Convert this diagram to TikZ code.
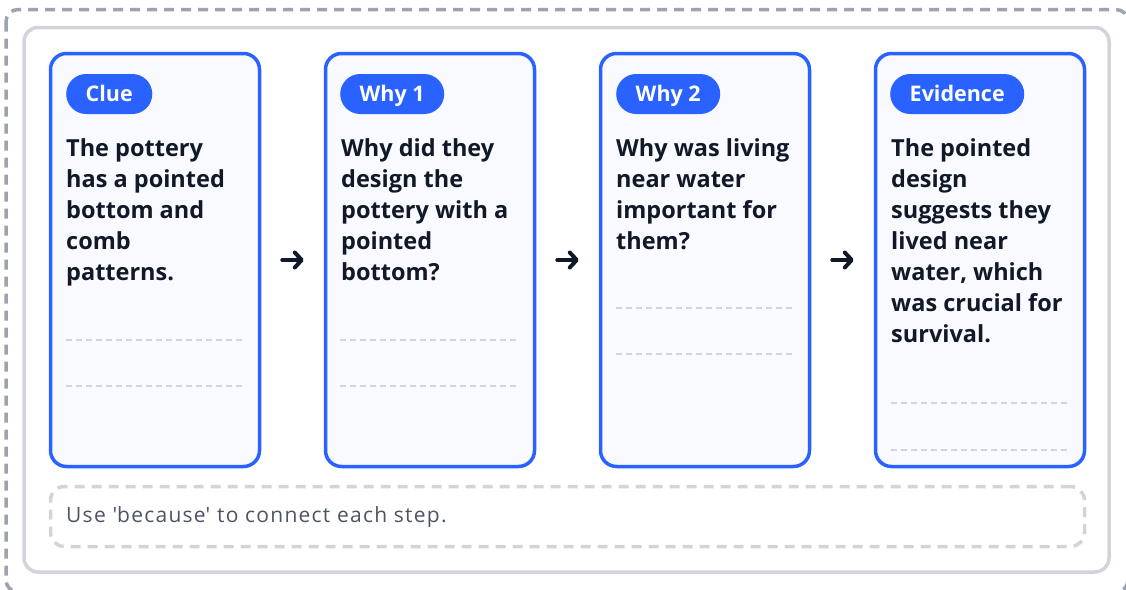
\documentclass[tikz,border=0pt]{standalone}
\usepackage{fontspec}
\setmainfont{Open Sans}
\usetikzlibrary{arrows.meta}
\definecolor{cardblue}{HTML}{2962FF}
\definecolor{cardfill}{HTML}{F8FAFF}
\definecolor{softgray}{HTML}{D1D5DB}
\definecolor{midgray}{HTML}{9CA3AF}
\definecolor{inkdark}{HTML}{111827}
\definecolor{notegray}{HTML}{4B5563}
\tikzset{
	card/.style={draw=cardblue, fill=cardfill, line width=3.5pt, rounded corners=16pt, minimum width=209pt, minimum height=413pt, inner sep=0pt},
	pill/.style={fill=cardblue, text=white, font=\fontsize{21.5}{24}\selectfont\bfseries, rounded corners=20pt, minimum height=40pt, inner xsep=19.5pt, inner ysep=0pt, text height=15.4pt, text depth=0pt, anchor=west},
	body/.style={text=inkdark, font=\fontsize{23.5}{31}\selectfont\bfseries, align=left, anchor=north west, inner sep=0pt},
	writeline/.style={draw=softgray, line width=2pt, dash pattern=on 6pt off 4pt},
	stepto/.style={draw=inkdark, line width=4pt, line cap=round, -{Straight Barb[length=7pt,width=15pt,round]}, shorten <=21pt, shorten >=20pt}
}
\begin{document}
\begin{tikzpicture}[x=1pt,y=-1pt]
	\useasboundingbox (0,0) rectangle (1126,589);
	\draw[midgray, line width=3.5pt, dash pattern=on 10pt off 7pt, rounded corners=12pt] (6,9.5) rectangle (1128,592);
	\draw[softgray, line width=3.5pt, rounded corners=14pt] (24,27.5) rectangle (1109,572);
	\node[card] at (155,260)(c1){};
	\node[card] at (430,260)(c2){};
	\node[card] at (705,260)(c3){};
	\node[card] at (980,260)(c4){};
	\node[pill] at (66,94)(p1){Clue};
	\node[pill] at (340,94)(p2){Why 1};
	\node[pill] at (616,94)(p3){Why 2};
	\node[pill] at (890,94)(p4){Evidence};
	\node[body] at (66,138)(t1){The pottery\\has a pointed\\bottom and\\comb\\patterns.};
	\node[body] at (341,138)(t2){Why did they\\design the\\pottery with a\\pointed\\bottom?};
	\node[body] at (616,138)(t3){Why was living\\near water\\important for\\them?};
	\node[body] at (891,138)(t4){The pointed\\design\\suggests they\\lived near\\water, which\\was crucial for\\survival.};
	\draw[writeline] (66,340) -- (244,340);
	\draw[writeline] (66,386) -- (244,386);
	\draw[writeline] (340,340) -- (518,340);
	\draw[writeline] (340,386) -- (518,386);
	\draw[writeline] (616,308) -- (794,308);
	\draw[writeline] (616,354) -- (794,354);
	\draw[writeline] (891,403) -- (1069,403);
	\draw[writeline] (891,450) -- (1069,450);
	\draw[stepto] (c1.east) -- (c2.west);
	\draw[stepto] (c2.east) -- (c3.west);
	\draw[stepto] (c3.east) -- (c4.west);
	\node[draw=softgray, line width=3.5pt, dash pattern=on 10pt off 7pt, rounded corners=14pt, minimum width=1034pt, minimum height=60pt] at (567.5,516.5)(note){};
	\node[text=notegray, font=\fontsize{21}{24}\selectfont\addfontfeature{LetterSpace=6}, anchor=west, inner sep=0pt] at (66,517)(notetext){Use \textquotesingle because\textquotesingle{} to connect each step.};
\end{tikzpicture}
\end{document}
